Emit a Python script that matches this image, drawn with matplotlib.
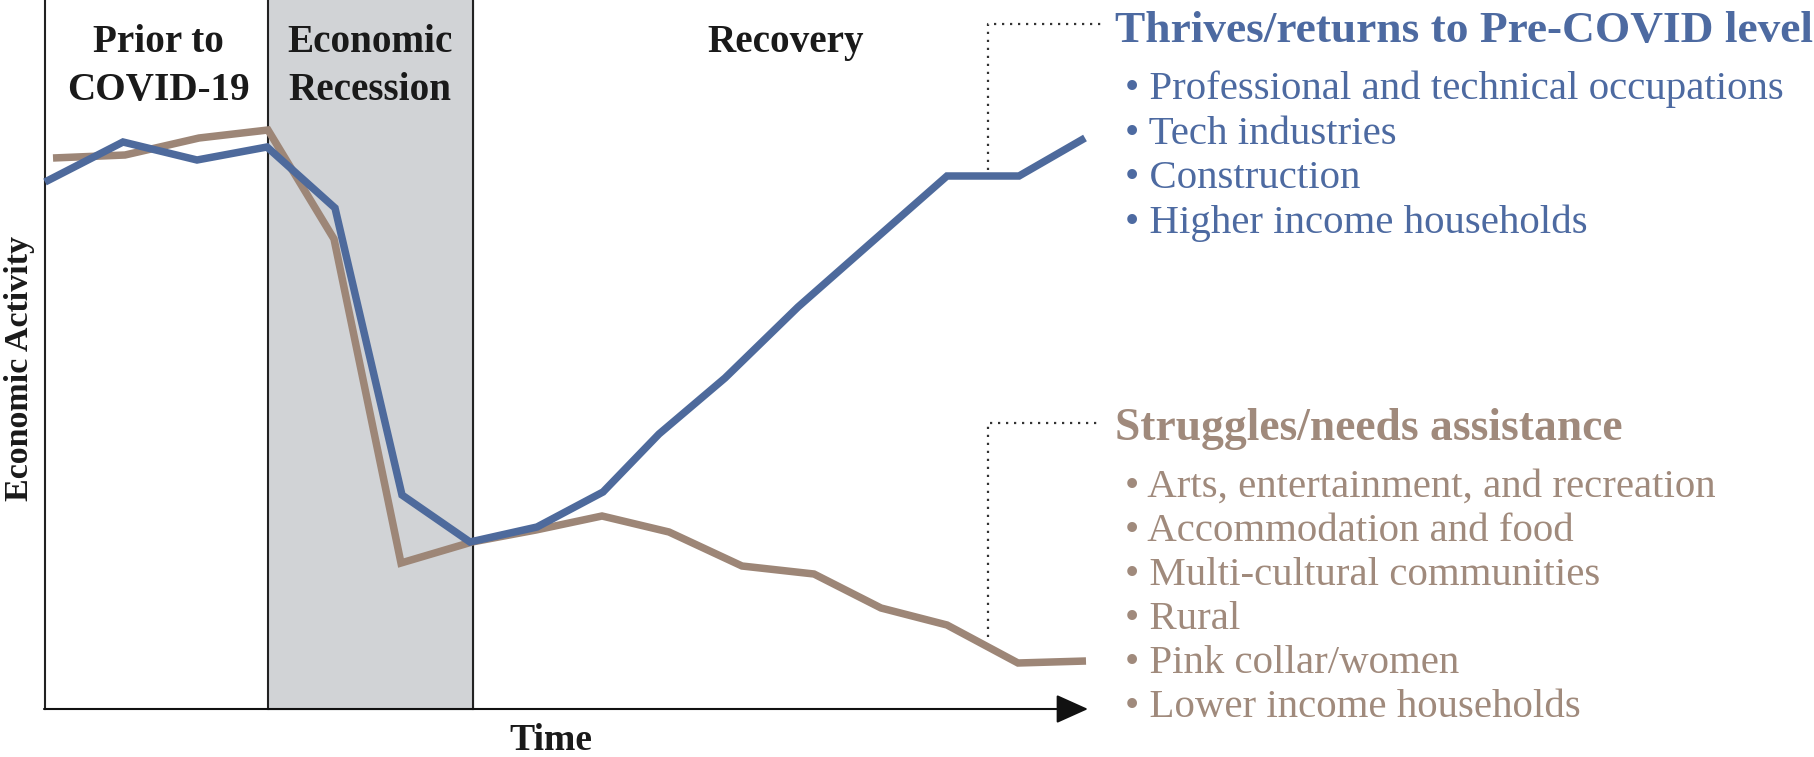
import matplotlib.pyplot as plt

# figure size in pixels; positions below are given in pixels from the top-left
W, H = 1814, 757

# economic activity curves (arbitrary units, higher = more activity)
time_thrive = [45, 123, 197, 267, 335, 402, 470, 537, 603, 659, 725, 798, 873, 947, 1019, 1085]
activity_thrive = [575, 615, 597, 610, 549, 262, 215, 230, 265, 323, 379, 450, 516, 581, 581, 619]

time_struggle = [53, 125, 199, 268, 334, 401, 472, 536, 602, 669, 742, 814, 881, 947, 1018, 1086]
activity_struggle = [599, 602, 619, 627, 518, 194, 215, 227, 241, 225, 191, 183, 149, 132, 94, 96]

# phase boundaries on the time axis
phase_start = [45, 268, 473]
phase_labels = ["Prior to\nCOVID-19", "Economic\nRecession", "Recovery"]
phase_centers = [158, 370, 786]

thrive_title = "Thrives/returns to Pre-COVID level"
thrive_items = ["Professional and technical occupations", "Tech industries",
                "Construction", "Higher income households"]
struggle_title = "Struggles/needs assistance"
struggle_items = ["Arts, entertainment, and recreation", "Accommodation and food",
                  "Multi-cultural communities", "Rural", "Pink collar/women",
                  "Lower income households"]

BLUE = "#4e6a9c"
BROWN = "#9d8677"
BLUE_TXT = "#4d6aa1"
BROWN_TXT = "#a08a7c"
GREY = "#d1d3d6"

plt.rcParams['font.family'] = ['Liberation Serif', 'DejaVu Serif']

fig = plt.figure(figsize=(W / 100, H / 100), dpi=100)
ax = fig.add_axes([0, 0, 1, 1])
ax.set_xlim(0, W)
ax.set_ylim(0, H)
ax.axis('off')
renderer = fig.canvas.get_renderer()


def put(x, y, s, width=None, size=20, **kw):
    t = ax.text(x, H - y, s, fontsize=size, **kw)
    if width is not None:
        w = t.get_window_extent(renderer).width
        t.set_fontsize(size * width / w)
    return t


axis_y = H - 709

# recession band and phase dividers
ax.axvspan(phase_start[1], phase_start[2], ymin=axis_y / H, ymax=1, color=GREY, zorder=0)
for x in phase_start:
    ax.plot([x, x], [axis_y, H], color='#222222', lw=1.5, zorder=1)

# time axis with arrow
ax.annotate('', xy=(1088, axis_y), xytext=(44, axis_y),
            arrowprops=dict(arrowstyle='-|>,head_length=1.0,head_width=0.45',
                            mutation_scale=20, lw=1.5, color='#111111',
                            shrinkA=0, shrinkB=0), zorder=2)

# curves
ax.plot(time_struggle, activity_struggle, color=BROWN, lw=5.4,
        solid_capstyle='butt', solid_joinstyle='miter', zorder=3)
ax.plot(time_thrive, activity_thrive, color=BLUE, lw=5.4,
        solid_capstyle='butt', solid_joinstyle='miter', zorder=4)

# dotted leaders
dot = dict(color='#333333', lw=1.6, ls=(0, (1, 2.6)), zorder=2)
ax.plot([988, 988, 1102], [H - 170, H - 24, H - 24], **dot)
ax.plot([988, 988, 1102], [H - 637, H - 423, H - 423], **dot)

# phase headers
hdr_texts = []
for lab, cx in zip(phase_labels, phase_centers):
    for i, line in enumerate(lab.split("\n")):
        hdr_texts.append(put(cx, 52 + 48 * i, line, size=28, fontweight='bold',
                             ha='center', va='baseline', color='#1a1a1a'))
# fit header size from "COVID-19" width
ref = [t for t in hdr_texts if t.get_text() == "COVID-19"][0]
scale = 182 / ref.get_window_extent(renderer).width
for t in hdr_texts:
    t.set_fontsize(t.get_fontsize() * scale)

# axis titles
put(551, 750, "Time", width=83, size=24, fontweight='bold', ha='center', va='baseline',
    color='#1a1a1a')
ylab = put(20, 368, "Economic Activity", width=265, size=20, fontweight='bold',
           ha='center', va='center', color='#1a1a1a')
ylab.set_rotation(90)

# right-hand annotations
put(1115, 42, thrive_title, width=697, size=28, fontweight='bold', color=BLUE_TXT,
    va='baseline')
t0 = put(1125, 99, "\u2022 " + thrive_items[0], width=660, size=24, color=BLUE_TXT,
         va='baseline')
item_size = t0.get_fontsize()
for i, s in enumerate(thrive_items[1:], start=1):
    put(1125, 99 + 44.5 * i, "\u2022 " + s, size=item_size, color=BLUE_TXT, va='baseline')

put(1115, 440, struggle_title, width=508, size=28, fontweight='bold', color=BROWN_TXT,
    va='baseline')
for i, s in enumerate(struggle_items):
    put(1125, 497 + 44 * i, "\u2022 " + s, size=item_size, color=BROWN_TXT, va='baseline')

fig.savefig('out.png', dpi=100)
